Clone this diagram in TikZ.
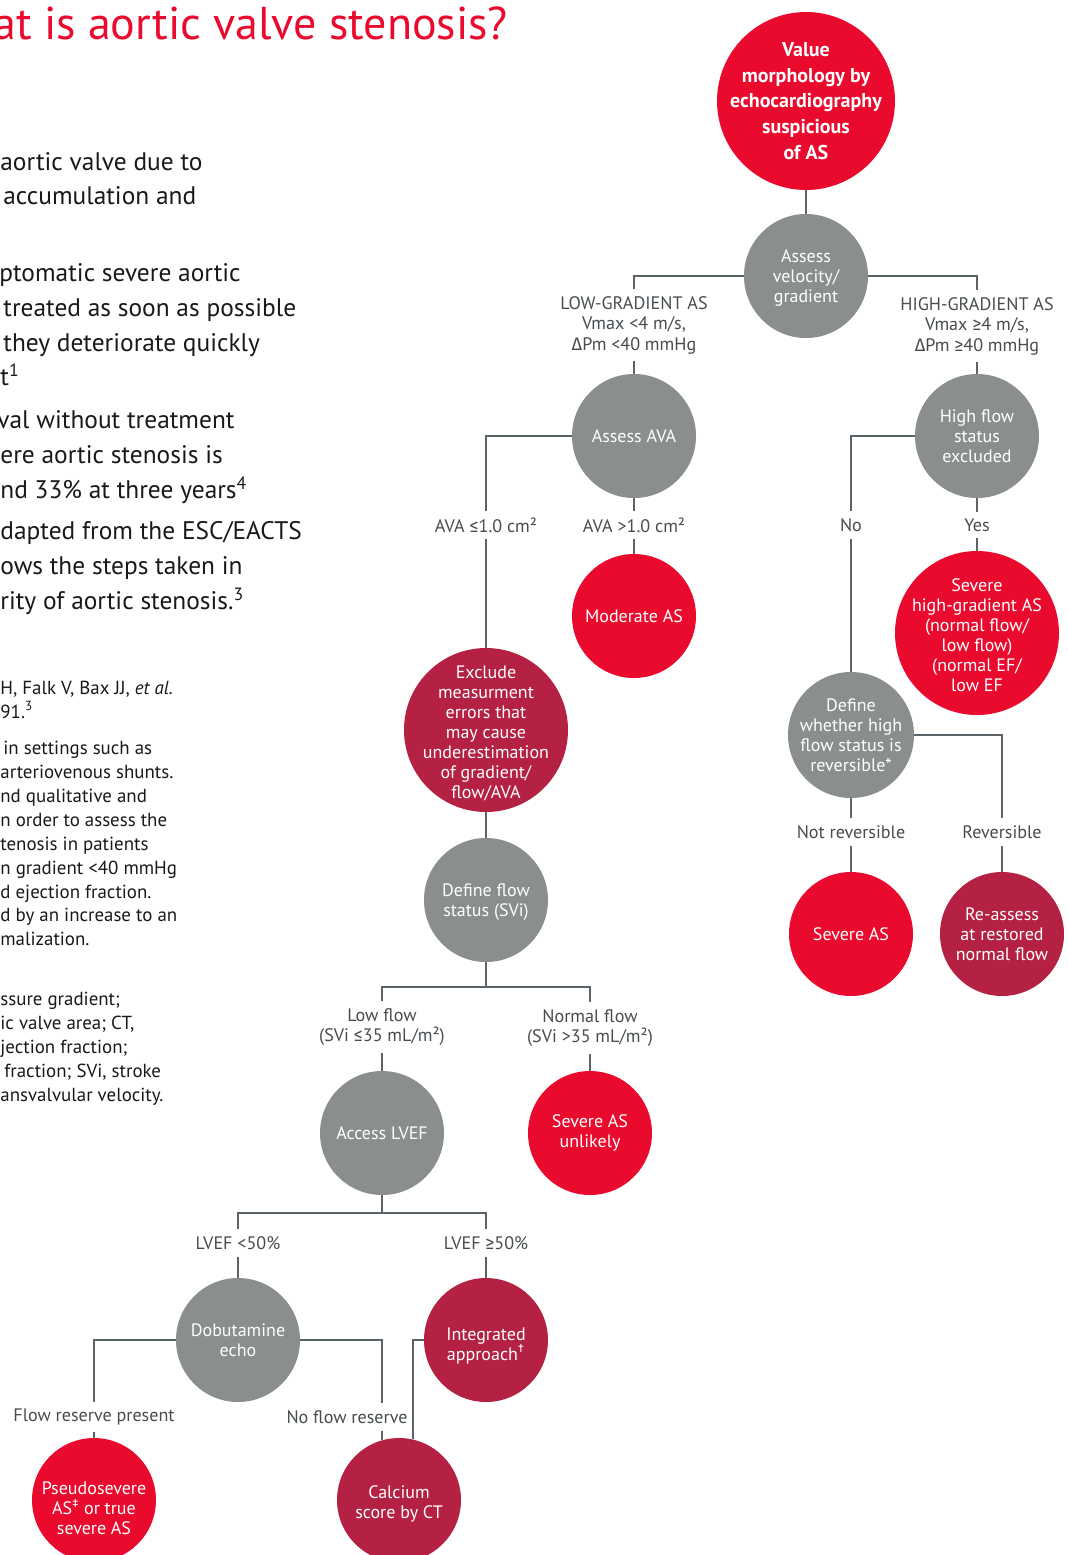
\documentclass[tikz,border=0pt]{standalone}
\usepackage{fontspec}
\setmainfont{PT Sans}
\newfontfamily\symfont{Fira Sans}
\usetikzlibrary{positioning}

\definecolor{asred}{RGB}{233,10,46}
\definecolor{aswine}{RGB}{181,33,66}
\definecolor{asgrey}{RGB}{138,142,141}
\definecolor{lingrey}{RGB}{90,99,103}
\definecolor{txtgrey}{RGB}{70,76,80}
\definecolor{inkblack}{RGB}{25,25,25}
\newcommand{\asym}[1]{{\symfont #1}}
\newcommand{\senk}[1]{\rule{0pt}{#1}}

\begin{document}
\begin{tikzpicture}[
    x=0.5pt, y=-0.5pt,
    punkt/.style = {circle, inner sep=-20pt, minimum size=62pt, align=center,
                    text=white, font=\fontsize{9}{10}\selectfont},
    stor/.style = {minimum size=82pt},
    rod/.style = {punkt, fill=asred},
    vin/.style = {punkt, fill=aswine},
    gra/.style = {punkt, fill=asgrey},
    etikett/.style = {align=center, text=txtgrey, inner xsep=2pt, inner ysep=3.3pt,
                      font=\fontsize{9.05}{10.25}\selectfont},
    pil/.style = {lingrey, line width=0.75pt},
    brod/.style = {anchor=base west, text=inkblack, inner sep=0pt,
                   font=\fontsize{12.7}{14}\selectfont},
    fot/.style = {brod, font=\fontsize{9.45}{11}\selectfont}
    ]
  \useasboundingbox (0,0) rectangle (1068,1555);
  \clip (0,0) rectangle (1068,1555);

  % text column, cut at the left edge
  \node[anchor=base west, text=asred, inner sep=0pt, font=\fontsize{23}{26}\selectfont]
    (tittel) at (-7,39) {at is aortic valve stenosis?};

  \foreach \yb/\xb/\txt in {170/0/{aortic valve due to}, 204/3/{accumulation and},
      281/-1/{ptomatic severe aortic}, 316/3/{treated as soon as possible},
      351/3/{they deteriorate quickly}, 385/0/{t\textsuperscript{1}},
      428/-3/{val without treatment}, 463/0/{ere aortic stenosis is},
      498/0/{nd 33\% at three years\textsuperscript{4}},
      539/0/{dapted from the ESC/EACTS}, 574/0/{ows the steps taken in},
      609/0/{rity of aortic stenosis.\textsuperscript{3}}}
    \node[brod] (b\yb) at (\xb,\yb) {\txt};

  \foreach \yb/\xb/\txt in {694/0/{H, Falk V, Bax JJ, \textit{et al.}}, 718/0/{91.\textsuperscript{3}},
      754/3/{in settings such as}, 778/0/{arteriovenous shunts.},
      802/0/{nd qualitative and}, 826/0/{n order to assess the},
      850/0/{tenosis in patients}, 874/0/{n gradient <40 mmHg},
      898/0/{d ejection fraction.}, 921/0/{d by an increase to an},
      945/0/{malization.}, 1005/0/{ssure gradient;}, 1029/0/{ic valve area; CT,},
      1053/0/{jection fraction;}, 1077/4/{fraction; SVi, stroke},
      1101/0/{ansvalvular velocity.}}
    \node[fot] (f\yb) at (\xb,\yb) {\txt};

  % flowchart
  \node[rod, minimum size=89pt, font=\bfseries\fontsize{10}{12.9}\selectfont]
    (morph) at (806,101) {Value\\morphology by\\echocardiography\\suspicious\\of AS};
  \node[gra] (velo) at (806,276) {\senk{8.8pt}Assess\\velocity/\\gradient};
  \node[etikett] (lowg) at (634,325) {LOW-GRADIENT AS\\Vmax <4 m/s,\\\asym{Δ}Pm <40 mmHg};
  \node[etikett] (highg) at (977,326) {HIGH-GRADIENT AS\\Vmax \asym{≥}4 m/s,\\\asym{Δ}Pm \asym{≥}40 mmHg};
  \node[gra] (ava) at (634,436) {Assess AVA};
  \node[gra] (hfs) at (977,436) {High flow\\status\\excluded};
  \node[etikett] (avale) at (486,525) {AVA \asym{≤}1.0 cm²};
  \node[etikett] (avagt) at (634,525) {AVA >1.0 cm²};
  \node[etikett] (no) at (851,525) {No};
  \node[etikett] (yes) at (977,525) {Yes};
  \node[rod] (mod) at (634,616) {Moderate AS};
  \node[rod, stor] (sevhg) at (977,633) {\senk{8.8pt}Severe\\high-gradient AS\\(normal flow/\\low flow)\\(normal EF/\\low EF};
  \node[vin, stor] (excl) at (486,730) {\senk{9.8pt}Exclude\\measurment\\errors that\\may cause\\underestimation\\of gradient/\\flow/AVA};
  \node[gra, minimum size=63pt] (defhf) at (851,735) {Define\\whether high\\flow status is\\reversible*};
  \node[etikett] (notrev) at (851,832) {Not reversible};
  \node[etikett] (rev) at (1002,832) {Reversible};
  \node[rod] (sevas) at (851,934) {Severe AS};
  \node[vin] (reass) at (1002,934) {Re-assess\\at restored\\normal flow};
  \node[gra] (dfs) at (486,900) {\senk{8.8pt}Define flow\\status (SVi)};
  \coordinate (dfsj) at (486,987);
  \node[etikett] (lowf) at (382,1027) {Low flow\\(SVi \asym{≤}35 mL/m²)};
  \node[etikett] (normf) at (590,1028) {Normal flow\\(SVi >35 mL/m²)};
  \node[gra] (lvef) at (382,1133) {Access LVEF};
  \node[rod] (unlik) at (590,1133) {Severe AS\\unlikely};
  \coordinate (lvefj) at (382,1213);
  \node[etikett] (lt50) at (238,1243) {LVEF <50\%};
  \node[etikett] (ge50) at (486,1243) {LVEF \asym{≥}50\%};
  \node[gra] (dob) at (238,1340) {Dobutamine\\echo};
  \node[vin] (intg) at (486,1340) {\senk{11.8pt}Integrated\\approach\textsuperscript{\asym{†}}};
  \node[etikett] (frp) at (94,1417) {Flow reserve present};
  \node[etikett] (nfr) at (347,1417) {No flow reserve};
  \node[rod] (pseudo) at (94,1500) {\senk{14.8pt}Pseudosevere\\AS\textsuperscript{\asym{‡}} or true\\severe AS};
  \node[vin] (calc) at (399,1500) {\senk{10.8pt}Calcium\\score by CT};

  \draw[pil]
  (morph) -- (velo)
  (velo.west) -| (lowg.north) (lowg.south) -- (ava.north)
  (velo.east) -| (highg.north) (highg.south) -- (hfs.north)
  (ava.west) -| (avale.north) (avale.south) -- (excl.north)
  (ava.south) -- (avagt.north) (avagt.south) -- (mod.north)
  (hfs.west) -| (no.north) (no.south) -- (defhf.north)
  (hfs.south) -- (yes.north) (yes.south) -- (sevhg.north)
  (defhf.east) -| (rev.north) (rev.south) -- (reass.north)
  (defhf.south) -- (notrev.north) (notrev.south) -- (sevas.north)
  (excl.south) -- (dfs.north)
  (dfs.south) -- (dfsj) (lowf.north) |- (dfsj) -| (normf.north)
  (lowf.south) -- (lvef.north) (normf.south) -- (unlik.north)
  (lvef.south) -- (lvefj) (lt50.north) |- (lvefj) -| (ge50.north)
  (lt50.south) -- (dob.north) (ge50.south) -- (intg.north)
  (dob.west) -| (frp.north) (frp.south) -- (pseudo.north)
  (dob.east) -| (calc.106 |- nfr.north) (calc.106 |- nfr.south) -- (calc.106)
  (intg.west) -| (calc.77);
\end{tikzpicture}
\end{document}
